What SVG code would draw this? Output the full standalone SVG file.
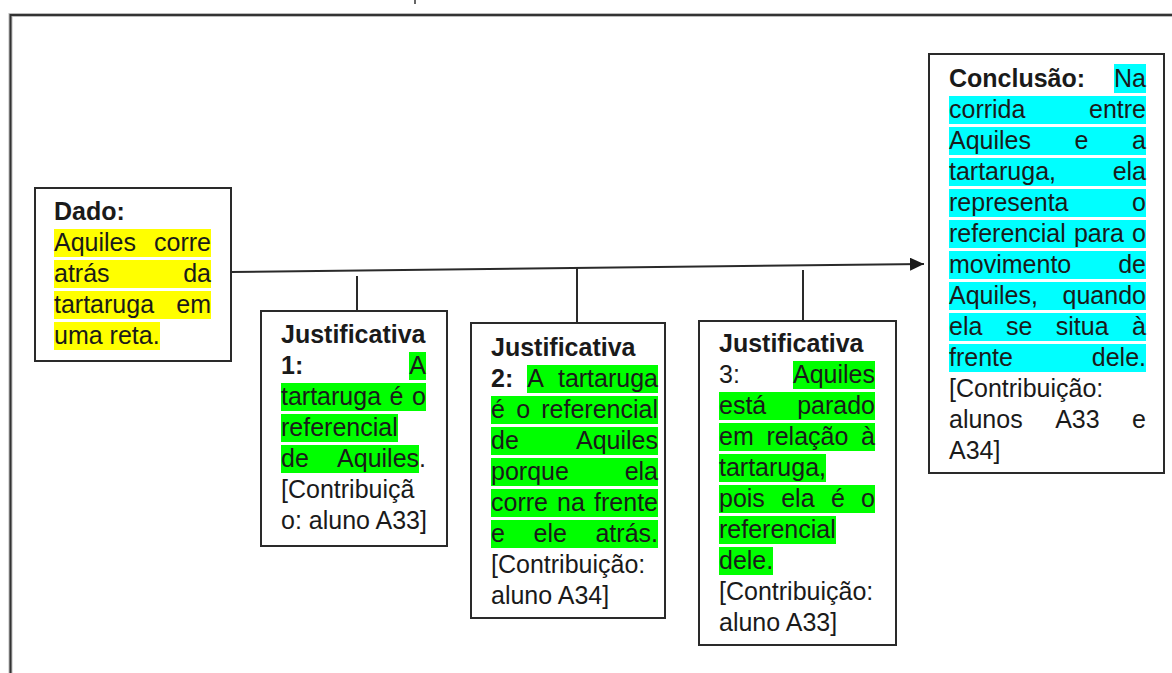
<svg xmlns="http://www.w3.org/2000/svg" width="1172" height="673" viewBox="0 0 1172 673">
<style>
.t{font-family:"Liberation Sans",Arial,sans-serif;font-size:25px;fill:#1a1a1a}
.b{font-weight:bold}
.e{text-anchor:end}
.box{fill:#fff;stroke:#2a2a2a;stroke-width:2}
.y{fill:#ffff00}
.g{fill:#00ff00}
.c{fill:#00ffff}
.conn{stroke:#2a2a2a;stroke-width:2;fill:none}
</style>
<defs>
<marker id="ah" markerWidth="14" markerHeight="13" refX="14" refY="6.5" orient="auto" markerUnits="userSpaceOnUse">
<path d="M0,0 L14,6.5 L0,13 Z" fill="#1a1a1a"/>
</marker>
</defs>
<rect width="1172" height="673" fill="#fff"/>
<g id="frame">
<path d="M10.5,673 V15 H1172" fill="none" stroke="#bbb" stroke-width="4"/>
<path d="M10.5,673 V15 H1172" fill="none" stroke="#333" stroke-width="2"/>
<line x1="415" y1="0" x2="415" y2="4" stroke="#333" stroke-width="1.5"/>
</g>
<g id="connectors">
<line class="conn" x1="231" y1="272" x2="924" y2="264" marker-end="url(#ah)"/>
<line class="conn" x1="357" y1="276" x2="357" y2="311" stroke-width="1.5"/>
<line class="conn" x1="577" y1="268" x2="577" y2="323" stroke-width="1.5"/>
<line class="conn" x1="803" y1="270" x2="803" y2="321" stroke-width="1.5"/>
</g>
<g id="dado">
<rect class="box" x="35" y="188" width="196" height="173"/>
<rect class="y" x="54" y="229" width="157" height="28"/>
<rect class="y" x="54" y="260" width="157" height="28"/>
<rect class="y" x="54" y="291" width="157" height="28"/>
<rect class="y" x="54" y="322" width="106" height="28"/>
<text class="t b" x="54" y="220">Dado:</text>
<text class="t" x="54" y="251">Aquiles</text><text class="t e" x="211" y="251">corre</text>
<text class="t" x="54" y="282">atrás</text><text class="t e" x="211" y="282">da</text>
<text class="t" x="54" y="313">tartaruga</text><text class="t e" x="211" y="313">em</text>
<text class="t" x="54" y="344">uma reta.</text>
</g>
<g id="justificativa1">
<rect class="box" x="261" y="311" width="186" height="235"/>
<rect class="g" x="409" y="352" width="17" height="28"/>
<rect class="g" x="281" y="383" width="145" height="28"/>
<rect class="g" x="281" y="414" width="117" height="28"/>
<rect class="g" x="281" y="445" width="138" height="28"/>
<text class="t b" x="281" y="343">Justificativa</text>
<text class="t b" x="281" y="374">1:</text><text class="t e" x="426" y="374">A</text>
<text class="t" x="281" y="405">tartaruga</text><text class="t" x="389.6" y="405">é</text><text class="t e" x="426" y="405">o</text>
<text class="t" x="281" y="436">referencial</text>
<text class="t" x="281" y="467">de</text><text class="t e" x="426" y="467">Aquiles.</text>
<text class="t" x="281" y="498">[Contribuiçã</text>
<text class="t" x="281" y="529">o: aluno A33]</text>
</g>
<g id="justificativa2">
<rect class="box" x="471" y="323" width="194" height="295"/>
<rect class="g" x="527" y="365" width="131" height="28"/>
<rect class="g" x="491" y="396" width="167" height="28"/>
<rect class="g" x="491" y="427" width="167" height="28"/>
<rect class="g" x="491" y="458" width="167" height="28"/>
<rect class="g" x="491" y="489" width="167" height="28"/>
<rect class="g" x="491" y="520" width="167" height="28"/>
<text class="t b" x="491" y="356">Justificativa</text>
<text class="t b" x="491" y="387">2:</text><text class="t" x="527.3" y="387">A</text><text class="t e" x="658" y="387">tartaruga</text>
<text class="t" x="491" y="418">é</text><text class="t" x="516.2" y="418">o</text><text class="t e" x="658" y="418">referencial</text>
<text class="t" x="491" y="449">de</text><text class="t e" x="658" y="449">Aquiles</text>
<text class="t" x="491" y="480">porque</text><text class="t e" x="658" y="480">ela</text>
<text class="t" x="491" y="511">corre</text><text class="t" x="557.1" y="511">na</text><text class="t e" x="658" y="511">frente</text>
<text class="t" x="491" y="542">e</text><text class="t" x="533.5" y="542">ele</text><text class="t e" x="658" y="542">atrás.</text>
<text class="t" x="491" y="573">[Contribuição:</text>
<text class="t" x="491" y="604">aluno A34]</text>
</g>
<g id="justificativa3">
<rect class="box" x="699" y="321" width="197" height="324"/>
<rect class="g" x="793" y="361" width="82" height="28"/>
<rect class="g" x="719" y="392" width="156" height="28"/>
<rect class="g" x="719" y="423" width="156" height="28"/>
<rect class="g" x="719" y="454" width="107" height="28"/>
<rect class="g" x="719" y="485" width="156" height="28"/>
<rect class="g" x="719" y="516" width="117" height="28"/>
<rect class="g" x="719" y="547" width="54" height="28"/>
<text class="t b" x="719" y="352">Justificativa</text>
<text class="t" x="719" y="383">3:</text><text class="t e" x="875" y="383">Aquiles</text>
<text class="t" x="719" y="414">está</text><text class="t e" x="875" y="414">parado</text>
<text class="t" x="719" y="445">em</text><text class="t" x="766.4" y="445">relação</text><text class="t e" x="875" y="445">à</text>
<text class="t" x="719" y="476">tartaruga,</text>
<text class="t" x="719" y="507">pois</text><text class="t" x="781.2" y="507">ela</text><text class="t" x="830.9" y="507">é</text><text class="t e" x="875" y="507">o</text>
<text class="t" x="719" y="538">referencial</text>
<text class="t" x="719" y="569">dele.</text>
<text class="t" x="719" y="600">[Contribuição:</text>
<text class="t" x="719" y="631">aluno A33]</text>
</g>
<g id="conclusao">
<rect class="box" x="929" y="54" width="235" height="419"/>
<rect class="c" x="1114" y="64" width="32" height="29"/>
<rect class="c" x="949" y="96" width="197" height="28"/>
<rect class="c" x="949" y="127" width="197" height="28"/>
<rect class="c" x="949" y="158" width="197" height="28"/>
<rect class="c" x="949" y="189" width="197" height="28"/>
<rect class="c" x="949" y="220" width="197" height="28"/>
<rect class="c" x="949" y="251" width="197" height="28"/>
<rect class="c" x="949" y="282" width="197" height="28"/>
<rect class="c" x="949" y="313" width="197" height="28"/>
<rect class="c" x="949" y="344" width="197" height="28"/>
<text class="t b" x="949" y="87">Conclusão:</text><text class="t e" x="1146" y="87">Na</text>
<text class="t" x="949" y="118">corrida</text><text class="t e" x="1146" y="118">entre</text>
<text class="t" x="949" y="149">Aquiles</text><text class="t" x="1074.6" y="149">e</text><text class="t e" x="1146" y="149">a</text>
<text class="t" x="949" y="180">tartaruga,</text><text class="t e" x="1146" y="180">ela</text>
<text class="t" x="949" y="211">representa</text><text class="t e" x="1146" y="211">o</text>
<text class="t" x="949" y="242">referencial</text><text class="t" x="1073.9" y="242">para</text><text class="t e" x="1146" y="242">o</text>
<text class="t" x="949" y="273">movimento</text><text class="t e" x="1146" y="273">de</text>
<text class="t" x="949" y="304">Aquiles,</text><text class="t e" x="1146" y="304">quando</text>
<text class="t" x="949" y="335">ela</text><text class="t" x="1005.9" y="335">se</text><text class="t" x="1055.8" y="335">situa</text><text class="t e" x="1146" y="335">à</text>
<text class="t" x="949" y="366">frente</text><text class="t e" x="1146" y="366">dele.</text>
<text class="t" x="949" y="397">[Contribuição:</text>
<text class="t" x="949" y="428">alunos</text><text class="t" x="1055.2" y="428">A33</text><text class="t e" x="1146" y="428">e</text>
<text class="t" x="949" y="459">A34]</text>
</g>
</svg>
